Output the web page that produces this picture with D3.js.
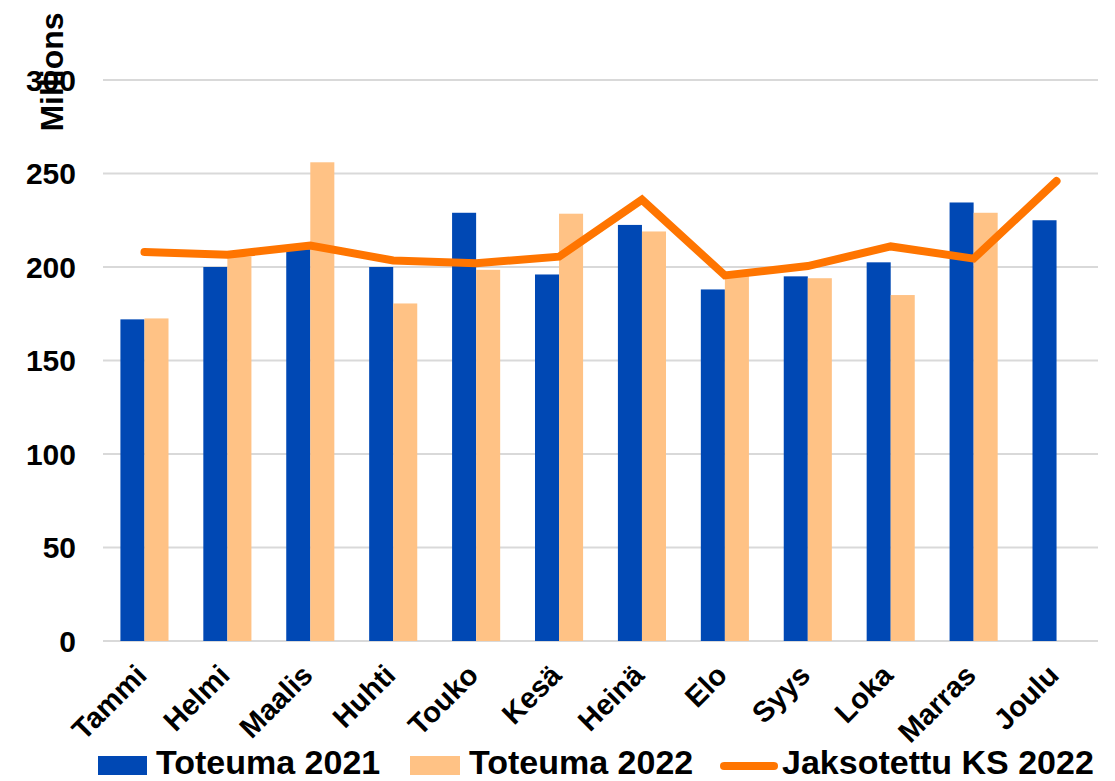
<!DOCTYPE html>
<html>
<head>
<meta charset="utf-8">
<script src="https://cdn.jsdelivr.net/npm/d3@7"></script>
<style>
  body { margin: 0; background: #fff; }
  text { font-family: "Liberation Sans", Arial, sans-serif; font-weight: bold; fill: #000; }
</style>
</head>
<body>
<div class="chart"></div>
<script>
const months = ["Tammi", "Helmi", "Maalis", "Huhti", "Touko", "Kesä", "Heinä", "Elo", "Syys", "Loka", "Marras", "Joulu"];
const toteuma2021 = [172, 200, 209.5, 200, 229, 196, 222.5, 188, 195, 202.5, 234.5, 225];
const toteuma2022 = [172.5, 205.5, 256, 180.5, 198.5, 228.5, 219, 196, 194, 185, 229, null];
const jaksotettu = [208, 206.5, 211.5, 203.5, 202, 205.5, 236, 195.5, 200.5, 211, 204.5, 246];
const yTicks = [0, 50, 100, 150, 200, 250, 300];

const totalWidth = 1115, totalHeight = 781;
const plot = { left: 103, right: 1098, top: 80, bottom: 641 };

const svg = d3
  .select(".chart")
  .append("svg")
  .attr("width", totalWidth)
  .attr("height", totalHeight);

const xScale = d3
  .scaleBand()
  .domain(months)
  .range([plot.left, plot.right])
  .paddingInner(0.42)
  .paddingOuter(0.21);

const xInner = d3
  .scaleBand()
  .domain(["2021", "2022"])
  .range([0, xScale.bandwidth()]);

const yScale = d3.scaleLinear().domain([0, 300]).range([plot.bottom, plot.top]);

// gridlines
svg
  .append("g")
  .selectAll("line")
  .data(yTicks)
  .enter()
  .append("line")
  .attr("x1", plot.left)
  .attr("x2", plot.right)
  .attr("y1", (d) => yScale(d))
  .attr("y2", (d) => yScale(d))
  .attr("stroke", "#d9d9d9")
  .attr("stroke-width", 2);

// y tick labels
svg
  .append("g")
  .selectAll("text")
  .data(yTicks)
  .enter()
  .append("text")
  .attr("x", 76)
  .attr("y", (d) => yScale(d))
  .attr("dy", "0.36em")
  .attr("text-anchor", "end")
  .style("font-size", "30px")
  .text((d) => d);

const bars = svg.append("g");

bars
  .selectAll(".b2021")
  .data(months)
  .enter()
  .append("rect")
  .attr("x", (d) => xScale(d) + xInner("2021"))
  .attr("y", (d, i) => yScale(toteuma2021[i]))
  .attr("width", xInner.bandwidth())
  .attr("height", (d, i) => yScale(0) - yScale(toteuma2021[i]))
  .attr("fill", "#0048b4");

bars
  .selectAll(".b2022")
  .data(months.filter((d, i) => toteuma2022[i] != null))
  .enter()
  .append("rect")
  .attr("x", (d) => xScale(d) + xInner("2022"))
  .attr("y", (d) => yScale(toteuma2022[months.indexOf(d)]))
  .attr("width", xInner.bandwidth())
  .attr("height", (d) => yScale(0) - yScale(toteuma2022[months.indexOf(d)]))
  .attr("fill", "#ffc285");

const line = d3
  .line()
  .x((d, i) => xScale(months[i]) + xScale.bandwidth() / 2)
  .y((d) => yScale(d));

svg
  .append("path")
  .datum(jaksotettu)
  .attr("fill", "none")
  .attr("stroke", "#ff7500")
  .attr("stroke-width", 8)
  .attr("stroke-linecap", "round")
  .attr("stroke-linejoin", "miter")
  .attr("d", line);

// x labels
svg
  .append("g")
  .selectAll("text")
  .data(months)
  .enter()
  .append("text")
  .attr(
    "transform",
    (d) => `translate(${xScale(d) + xScale.bandwidth() / 2 + 4}, 677) rotate(-45)`
  )
  .attr("text-anchor", "end")
  .style("font-size", "29px")
  .text((d) => d);

// y title
svg
  .append("text")
  .attr("transform", "translate(63, 72) rotate(-90)")
  .attr("text-anchor", "middle")
  .style("font-size", "32px")
  .text("Millions");

// legend
const legend = svg.append("g");
legend.append("rect").attr("x", 98).attr("y", 756).attr("width", 49).attr("height", 19).attr("fill", "#0048b4");
legend.append("text").attr("x", 156).attr("y", 774).style("font-size", "34px").text("Toteuma 2021");
legend.append("rect").attr("x", 410).attr("y", 756).attr("width", 50).attr("height", 19).attr("fill", "#ffc285");
legend.append("text").attr("x", 469).attr("y", 774).style("font-size", "34px").text("Toteuma 2022");
legend
  .append("line")
  .attr("x1", 724)
  .attr("x2", 774)
  .attr("y1", 766)
  .attr("y2", 766)
  .attr("stroke", "#ff7500")
  .attr("stroke-width", 8)
  .attr("stroke-linecap", "round");
legend.append("text").attr("x", 782).attr("y", 774).style("font-size", "34px").text("Jaksotettu KS 2022");
</script>
</body>
</html>
